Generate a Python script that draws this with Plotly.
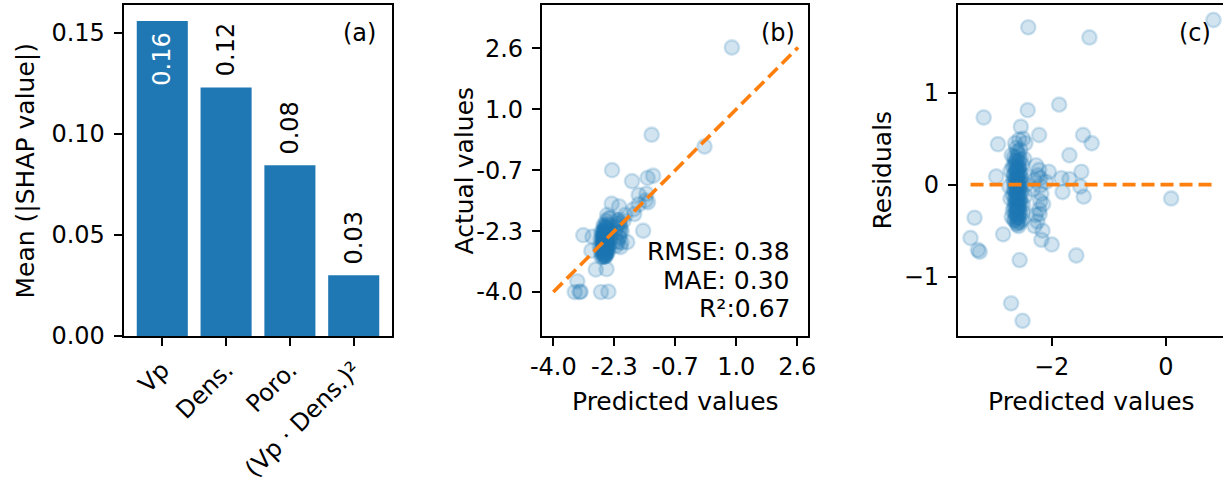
import plotly.graph_objects as go

# ---------------- data ----------------
features = ["Vp", "Dens.", "Poro.", "(Vp · Dens.)²"]
shap_mean = [0.156, 0.123, 0.0846, 0.0301]

predicted = [
    0.83, -1.34, -2.41, 0.09, -3.19, -2.42, -1.87, -2.54, -2.94, -2.22,
    -1.45, -1.30, -1.69, -2.97, -2.05, -1.83, -1.69, -1.48, -1.81, -1.50,
    -1.44, -3.35, -3.42, -3.29, -3.26, -2.85, -2.16, -2.18, -2.00, -1.57,
    -2.56, -2.71, -2.51, -2.50, -2.46, -2.55, -2.60, -2.27, -2.22, -2.24,
    -2.20, -2.20, -2.18, -2.20, -2.22, -2.15, -2.21, -2.28, -2.25, -2.30,
    -2.10, -2.30, -2.33,
    -2.62, -2.58, -2.66, -2.55, -2.60, -2.64, -2.52, -2.68, -2.57, -2.61,
    -2.59, -2.63, -2.56, -2.65, -2.60, -2.54, -2.62, -2.67, -2.58, -2.61,
    -2.55, -2.64, -2.59, -2.62, -2.57, -2.66, -2.60, -2.53, -2.63, -2.58,
    -2.61, -2.65, -2.56, -2.60, -2.63, -2.58, -2.54, -2.62, -2.66, -2.59,
    -2.61, -2.56, -2.64, -2.60, -2.57, -2.62, -2.66, -2.59, -2.55, -2.61,
    -2.58, -2.64, -2.57, -2.70, -2.52, -2.50,
    -2.60, -2.63, -2.57, -2.61, -2.65, -2.58, -2.62, -2.55, -2.60, -2.67,
    -2.59, -2.63, -2.56, -2.61, -2.65, -2.58, -2.62, -2.55, -2.60, -2.64,
    -2.57, -2.61, -2.68, -2.59, -2.62, -2.55, -2.60, -2.64, -2.57, -2.61,
    -2.58, -2.63, -2.60, -2.56, -2.62, -2.59, -2.64, -2.60, -2.72, -2.72,
    -2.47, -2.46, -2.48, -2.70, -2.50, -2.74, -2.45, -2.68,
]
actual = [
    2.62, 0.26, -0.70, -0.06, -2.46, -1.61, -1.00, -1.91, -2.50, -1.68,
    -0.91, -0.85, -1.37, -2.88, -1.91, -1.76, -1.63, -1.34, -1.89, -1.52,
    -1.57, -3.71, -4.00, -4.00, -3.99, -3.39, -2.66, -2.78, -2.65, -2.34,
    -3.38, -4.00, -3.99, -2.00, -2.01, -2.17, -2.24, -2.06, -2.06, -2.14,
    -2.13, -2.21, -2.28, -2.38, -2.49, -2.36, -2.53, -2.61, -2.65, -2.75,
    -2.07, -2.25, -2.38,
    -2.22, -2.25, -2.36, -2.27, -2.34, -2.40, -2.30, -2.48, -2.38, -2.44,
    -2.44, -2.49, -2.44, -2.54, -2.51, -2.46, -2.56, -2.62, -2.54, -2.59,
    -2.54, -2.64, -2.60, -2.65, -2.61, -2.71, -2.67, -2.61, -2.72, -2.69,
    -2.73, -2.79, -2.71, -2.77, -2.81, -2.78, -2.75, -2.85, -2.90, -2.85,
    -2.89, -2.85, -2.95, -2.93, -2.92, -2.98, -3.04, -2.99, -2.96, -3.04,
    -3.03, -2.19, -2.08, -3.05, -2.90, -2.80,
    -2.30, -2.36, -2.32, -2.39, -2.45, -2.40, -2.46, -2.41, -2.48, -2.57,
    -2.51, -2.56, -2.51, -2.58, -2.63, -2.58, -2.64, -2.58, -2.65, -2.70,
    -2.65, -2.71, -2.79, -2.72, -2.77, -2.71, -2.78, -2.84, -2.79, -2.85,
    -2.83, -2.90, -2.89, -2.87, -2.95, -2.95, -3.03, -3.02, -2.57, -2.87,
    -2.37, -2.58, -2.20, -2.38, -2.72, -2.76, -2.45, -2.96,
]
residuals = [
    1.79, 1.60, 1.71, -0.15, 0.73, 0.81, 0.87, 0.63, 0.44, 0.54,
    0.54, 0.45, 0.32, 0.09, 0.14, 0.07, 0.06, 0.14, -0.08, -0.02,
    -0.13, -0.36, -0.58, -0.71, -0.73, -0.54, -0.50, -0.60, -0.65, -0.77,
    -0.82, -1.29, -1.48, 0.50, 0.45, 0.38, 0.36, 0.21, 0.16, 0.10,
    0.07, -0.01, -0.10, -0.18, -0.27, -0.21, -0.32, -0.33, -0.40, -0.45,
    0.03, 0.05, -0.05,
    0.40, 0.33, 0.30, 0.28, 0.26, 0.24, 0.22, 0.20, 0.19, 0.17,
    0.15, 0.14, 0.12, 0.11, 0.09, 0.08, 0.06, 0.05, 0.04, 0.02,
    0.01, 0.00, -0.01, -0.03, -0.04, -0.05, -0.07, -0.08, -0.09, -0.11,
    -0.12, -0.14, -0.15, -0.17, -0.18, -0.20, -0.21, -0.23, -0.24, -0.26,
    -0.28, -0.29, -0.31, -0.33, -0.35, -0.36, -0.38, -0.40, -0.41, -0.43,
    -0.45, 0.45, 0.49, -0.35, -0.38, -0.30,
    0.30, 0.27, 0.25, 0.22, 0.20, 0.18, 0.16, 0.14, 0.12, 0.10,
    0.08, 0.07, 0.05, 0.03, 0.02, 0.00, -0.02, -0.03, -0.05, -0.06,
    -0.08, -0.10, -0.11, -0.13, -0.15, -0.16, -0.18, -0.20, -0.22, -0.24,
    -0.25, -0.27, -0.29, -0.31, -0.33, -0.36, -0.39, -0.42, 0.15, -0.15,
    0.10, -0.12, 0.28, 0.32, -0.22, -0.02, 0.00, -0.28,
]

b_tickvals = [-4.0, -2.35, -0.7, 0.95, 2.6]
b_ticktext = ["-4.0", "-2.3", "-0.7", "1.0", "2.6"]
c_xtickvals = [-2, 0]
c_xticktext = ["\u22122", "0"]
c_ytickvals = [-1, 0, 1]
c_yticktext = ["\u22121", "0", "1"]
metrics = ["RMSE: 0.38", "MAE: 0.30", "R²:0.67"]

# ---------------- style ----------------
BLUE = "#1f77b4"
ORANGE = "#ff7f0e"
PT_FILL = "rgba(31,119,180,0.2)"
FONT = "DejaVu Sans"
FS = 25
TFS = 24
LW = 1.9
W, H = 1223, 484

fig = go.Figure()

fig.add_trace(go.Bar(x=features, y=shap_mean, width=0.8, marker_color=BLUE,
                     marker_line_width=0, xaxis="x", yaxis="y", showlegend=False))

marker = dict(size=14.4, color=PT_FILL, line=dict(width=2.4, color=PT_FILL))
fig.add_trace(go.Scatter(x=predicted, y=actual, mode="markers", marker=marker,
                         xaxis="x2", yaxis="y2", showlegend=False))
lo, hi = min(actual), max(actual)
fig.add_trace(go.Scatter(x=[lo, hi], y=[lo, hi], mode="lines",
                         line=dict(color=ORANGE, width=3.6, dash="13px,6px"),
                         xaxis="x2", yaxis="y2", showlegend=False))

fig.add_trace(go.Scatter(x=predicted, y=residuals, mode="markers", marker=marker,
                         xaxis="x3", yaxis="y3", showlegend=False))
fig.add_trace(go.Scatter(x=[min(predicted), max(predicted)], y=[0, 0], mode="lines",
                         line=dict(color=ORANGE, width=3.6, dash="13px,6px"),
                         xaxis="x3", yaxis="y3", showlegend=False))

ydom = [(H - 336) / H, (H - 5) / H]
common = dict(showgrid=False, zeroline=False, showline=True, linecolor="black",
              linewidth=LW, ticks="outside", ticklen=8.4, tickwidth=LW,
              tickcolor="black", tickfont=dict(family=FONT, size=TFS, color="black"),
              automargin=False)
xcommon = dict(common, ticklabelstandoff=0)
ycommon = dict(common, ticklabelstandoff=4)

fig.update_layout(
    width=W, height=H, margin=dict(l=0, r=0, t=0, b=0, autoexpand=False),
    paper_bgcolor="white", plot_bgcolor="white",
    font=dict(family=FONT, size=FS, color="black"),
    xaxis=dict(domain=[124 / W, 392 / W], range=[-0.6, 3.6], mirror=True,
               tickangle=-45, anchor="y", **xcommon),
    yaxis=dict(domain=ydom, range=[0, 0.1639], mirror=True,
               tickvals=[0, 0.05, 0.10, 0.15], tickformat=".2f", anchor="x", **ycommon),
    xaxis2=dict(domain=[542.3 / W, 808.3 / W], range=[-4.2975, 2.8975], mirror=True,
                tickvals=b_tickvals, ticktext=b_ticktext, anchor="y2", **xcommon),
    yaxis2=dict(domain=ydom, range=[-5.19, 3.771], mirror=True,
                tickvals=b_tickvals, ticktext=b_ticktext, anchor="x2", **ycommon),
    xaxis3=dict(domain=[958.3 / W, 1.0], range=[-3.634, 0.997], mirror=True,
                tickvals=c_xtickvals, ticktext=c_xticktext, anchor="y3", **xcommon),
    yaxis3=dict(domain=ydom, range=[-1.645, 1.953], mirror=False,
                tickvals=c_ytickvals, ticktext=c_yticktext, anchor="x3", **ycommon),
)

ann = []
# bar value labels
for i, (f, v) in enumerate(zip(features, shap_mean)):
    if i == 0:
        ann.append(dict(x=f, y=v, xref="x", yref="y", text=f"{v:.2f}", textangle=-90,
                        showarrow=False, yanchor="top", yshift=-11, borderpad=0,
                        font=dict(family=FONT, size=TFS, color="white")))
    else:
        ann.append(dict(x=f, y=v, xref="x", yref="y", text=f"{v:.2f}", textangle=-90,
                        showarrow=False, yanchor="bottom", yshift=10, borderpad=0,
                        font=dict(family=FONT, size=TFS, color="black")))

# panel letters
for ax, lab, xf in [("x", "(a)", 0.944), ("x2", "(b)", 0.955), ("x3", "(c)", 0.958)]:
    ya = "y" + ax[1:]
    ann.append(dict(x=xf, y=0.914, xref=f"{ax} domain", yref=f"{ya} domain", text=lab,
                    showarrow=False, xanchor="right", yanchor="middle", borderpad=0,
                    font=dict(family=FONT, size=TFS, color="black")))

# metrics
for txt, yf in zip(metrics, [0.2555, 0.1677, 0.0816]):
    ann.append(dict(x=0.936, y=yf, xref="x2 domain", yref="y2 domain", text=txt,
                    showarrow=False, xanchor="right", yanchor="middle", borderpad=0,
                    font=dict(family=FONT, size=FS, color="black")))

# axis titles
ytitle_y = (H - 170.5) / H
for txt, xp in [("Mean (|SHAP value|)", 25), ("Actual values", 464), ("Residuals", 882)]:
    ann.append(dict(x=xp / W, y=ytitle_y, xref="paper", yref="paper", text=txt,
                    textangle=-90, showarrow=False, xanchor="center", yanchor="middle",
                    borderpad=0, font=dict(family=FONT, size=FS, color="black")))
for xp in [675, 1091]:
    ann.append(dict(x=xp / W, y=(H - 401) / H, xref="paper", yref="paper",
                    text="Predicted values", showarrow=False, xanchor="center",
                    yanchor="middle", borderpad=0,
                    font=dict(family=FONT, size=FS, color="black")))

fig.update_layout(annotations=ann)
fig.write_html("out.html")
